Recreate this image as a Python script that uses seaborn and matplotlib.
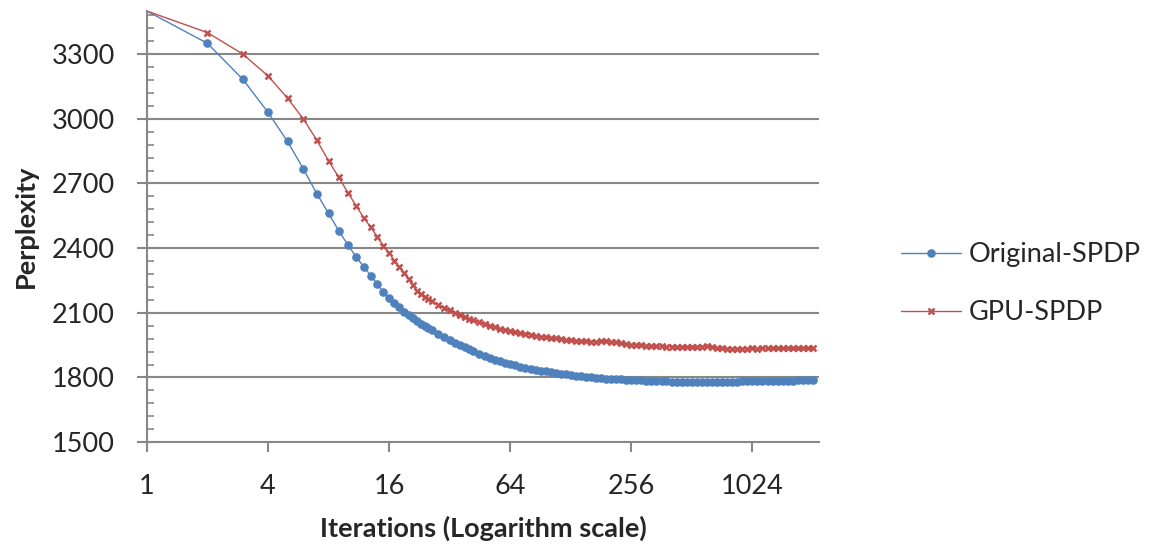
import pandas as pd
import seaborn as sns
import matplotlib.pyplot as plt
from matplotlib.ticker import FixedLocator, MultipleLocator, NullLocator

# iterations (dense at the start, then sampled along the log axis)
iterations = [1, 2, 3, 4, 5, 6, 7, 8, 9, 10, 11, 12, 13, 14, 15, 16, 17, 18, 19, 20,
              21, 22, 23, 24, 25, 26, 28, 30, 32, 34, 36, 38, 40, 42, 45, 48, 51, 54,
              57, 60, 64, 68, 72, 76, 81, 86, 91, 96, 102, 108, 114, 121, 128, 136,
              144, 152, 161, 171, 181, 192, 203, 215, 228, 242, 256, 271, 287, 304,
              322, 341, 362, 383, 406, 430, 456, 483, 512, 542, 575, 609, 645, 683,
              724, 767, 812, 861, 912, 966, 1024, 1085, 1149, 1218, 1290, 1367, 1448,
              1534, 1625, 1722, 1824, 1932, 2048]

original_spdp = [3500, 3350, 3183, 3030, 2895, 2767, 2652, 2561, 2480, 2414, 2358, 2312,
                 2272, 2232, 2196, 2167, 2145, 2125, 2105, 2090, 2075, 2062, 2050, 2040,
                 2030, 2021, 2004, 1989, 1974, 1961, 1950, 1940, 1931, 1922, 1910, 1900,
                 1891, 1883, 1876, 1869, 1862, 1856, 1850, 1845, 1840, 1836, 1832, 1828,
                 1824, 1820, 1817, 1814, 1811, 1809, 1806, 1804, 1801, 1799, 1797, 1795,
                 1794, 1793, 1791, 1790, 1789, 1788, 1787, 1786, 1785, 1784, 1783, 1782,
                 1781, 1781, 1780, 1780, 1779, 1779, 1779, 1779, 1780, 1779, 1780, 1780,
                 1781, 1781, 1782, 1782, 1783, 1783, 1784, 1784, 1785, 1785, 1786, 1786,
                 1786, 1787, 1787, 1787, 1787]

gpu_spdp = [3500, 3400, 3300, 3199, 3096, 2999, 2900, 2805, 2728, 2656, 2595, 2539,
            2496, 2452, 2411, 2378, 2341, 2313, 2283, 2255, 2228, 2203, 2186, 2172,
            2162, 2153, 2137, 2123, 2111, 2100, 2090, 2081, 2073, 2066, 2057, 2048,
            2040, 2033, 2027, 2021, 2015, 2010, 2005, 2001, 1997, 1993, 1990, 1987,
            1984, 1981, 1978, 1975, 1972, 1970, 1968, 1967, 1966, 1966, 1967, 1968,
            1966, 1963, 1958, 1955, 1952, 1951, 1950, 1948, 1946, 1945, 1944, 1943,
            1942, 1942, 1941, 1940, 1940, 1941, 1943, 1947, 1940, 1937, 1935, 1934,
            1933, 1932, 1933, 1934, 1935, 1934, 1935, 1936, 1935, 1936, 1935, 1936,
            1935, 1936, 1935, 1936, 1935]

x_ticks = [1, 4, 16, 64, 256, 1024]
y_ticks = [1500, 1800, 2100, 2400, 2700, 3000, 3300]

df = pd.DataFrame({"iter": iterations, "Original-SPDP": original_spdp, "GPU-SPDP": gpu_spdp})

sns.set_theme(style="white")
plt.rcParams["font.family"] = ["Lato", "DejaVu Sans"]

fig = plt.figure(figsize=(11.57, 5.52), dpi=100)
ax = fig.add_axes([0.127, 0.199, 0.581, 0.781])

grey = "#878787"
blue = "#4F81BD"
red = "#C0504D"
for y in y_ticks[1:]:
    ax.axhline(y, color=grey, lw=1.5, zorder=0)

sns.lineplot(data=df, x="iter", y="Original-SPDP", ax=ax, color=blue, lw=1,
             marker="o", markersize=6.2, markeredgewidth=0, markevery=slice(1, None),
             label="Original-SPDP")
sns.lineplot(data=df, x="iter", y="GPU-SPDP", ax=ax, color=red, lw=1,
             marker="x", markersize=5, markeredgewidth=1.8, markeredgecolor=red,
             markevery=slice(1, None), label="GPU-SPDP")

ax.set_xscale("log", base=2)
ax.set_xlim(1, 2200)
ax.set_ylim(1500, 3500)
ax.xaxis.set_major_locator(FixedLocator(x_ticks))
ax.xaxis.set_minor_locator(NullLocator())
ax.set_xticklabels([str(t) for t in x_ticks])
ax.yaxis.set_major_locator(FixedLocator(y_ticks))
ax.yaxis.set_minor_locator(MultipleLocator(60))

for s in ["top", "right"]:
    ax.spines[s].set_visible(False)
for s in ["left", "bottom"]:
    ax.spines[s].set_color(grey)
    ax.spines[s].set_linewidth(1.5)

ax.tick_params(axis="x", which="major", direction="out", length=7, width=1.5,
               color=grey, labelsize=19.5, pad=16, bottom=True)
ax.tick_params(axis="y", which="major", direction="inout", length=14, width=1.5,
               color=grey, labelsize=19.5, pad=16, left=True)
ax.tick_params(axis="y", which="minor", direction="in", length=5, width=1.2,
               color=grey, left=True)

ax.set_xlabel("Iterations (Logarithm scale)", fontsize=19.5, fontweight="bold", labelpad=12)
ax.set_ylabel("Perplexity", fontsize=19.5, fontweight="bold", labelpad=10)

ax.legend(loc="center left", bbox_to_anchor=(0.779, 0.486), bbox_transform=fig.transFigure,
          frameon=False, fontsize=19.5, handlelength=2.2, handletextpad=0.3,
          labelspacing=1.22, borderpad=0, borderaxespad=0)

plt.savefig("out.png", dpi=100)
